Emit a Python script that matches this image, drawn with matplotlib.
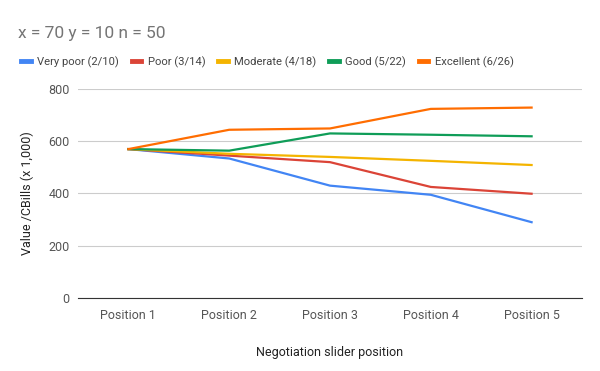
import matplotlib.pyplot as plt

# Daten
positions = ["Position 1", "Position 2", "Position 3", "Position 4", "Position 5"]
very_poor = [570, 534, 430, 395, 290]
poor = [570, 545, 520, 425, 399]
moderate = [570, 552, 540, 525, 509]
good = [570, 564, 630, 625, 619]
excellent = [570, 644, 649, 724, 729]

series = [
    ("Very poor (2/10)", very_poor, "#4285F4"),
    ("Poor (3/14)", poor, "#DB4437"),
    ("Moderate (4/18)", moderate, "#F4B400"),
    ("Good (5/22)", good, "#0F9D58"),
    ("Excellent (6/26)", excellent, "#FF6D01"),
]

plt.rcParams['font.family'] = ['Roboto', 'DejaVu Sans']

fig = plt.figure(figsize=(6, 3.71), dpi=100)
ax = fig.add_axes([0.13, 0.197, 0.84, 0.563])

x = range(len(positions))
for label, vals, col in series:
    ax.plot(x, vals, color=col, lw=1.6, label=label)

ax.set_ylim(0, 800)
ax.set_yticks([0, 200, 400, 600, 800])
ax.set_xlim(-0.5, 4.5)
ax.set_xticks(list(x))
ax.set_xticklabels(positions)
ax.grid(axis="y", color="#cccccc", lw=0.8)
ax.set_axisbelow(True)
for s in ["top", "right", "left"]:
    ax.spines[s].set_visible(False)
ax.spines["bottom"].set_color("#333333")
ax.tick_params(length=0, colors="#555555", labelsize=9, pad=6)
ax.tick_params(axis="x", pad=8)

ax.set_ylabel("Value /CBills (x 1,000)", color="#222222", fontsize=9, labelpad=10)
ax.set_xlabel("Negotiation slider position", color="#222222", fontsize=9, labelpad=17)

fig.text(0.03, 0.91, "x = 70 y = 10 n = 50", fontsize=12.5, color="#757575", va="center")

h, l = ax.get_legend_handles_labels()
leg = fig.legend(h, l, loc="center left", bbox_to_anchor=(0.035, 0.833), ncol=5,
                 frameon=False, fontsize=8.1, handlelength=0.85, handletextpad=0.6,
                 columnspacing=1.1, labelcolor="#444444", borderaxespad=0, borderpad=0)
for ln in leg.get_lines():
    ln.set_linewidth(3.5)

fig.savefig("out.png", dpi=100)
